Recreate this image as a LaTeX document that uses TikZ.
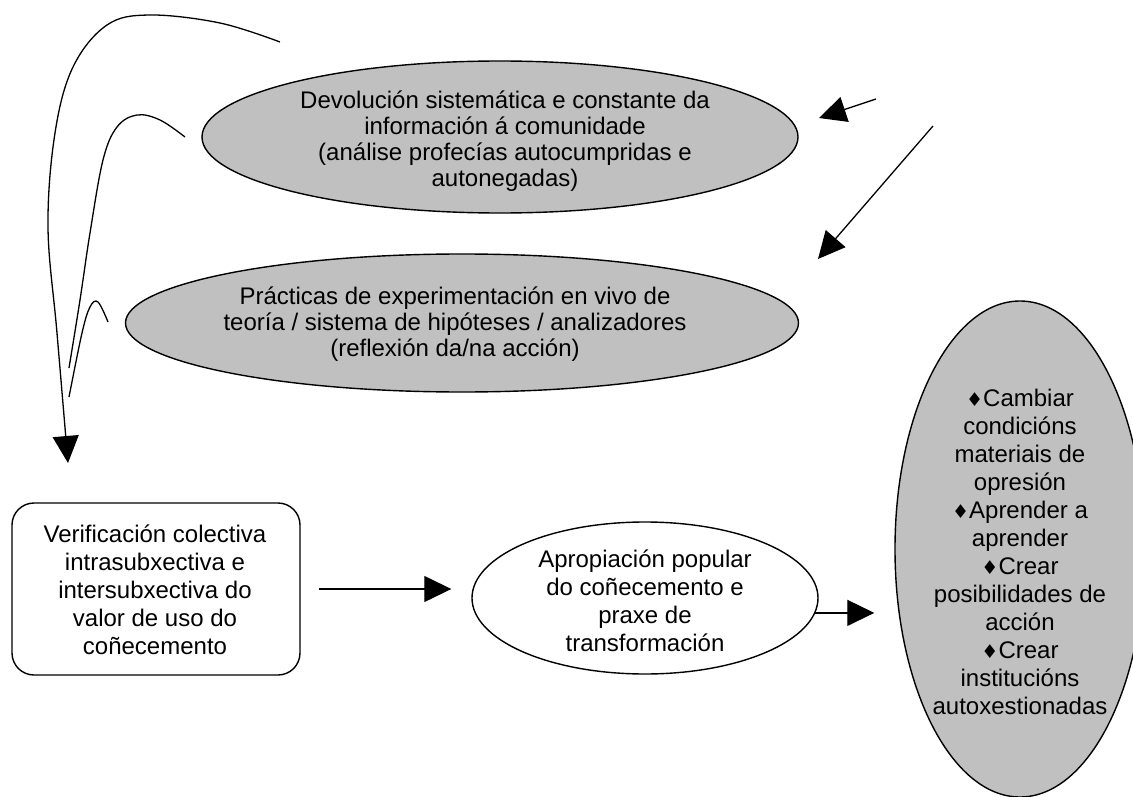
\documentclass[tikz,border=0pt]{standalone}
\usepackage{fontspec}
\setmainfont{Liberation Sans}
\newfontfamily\symfont{DejaVu Sans}
\usetikzlibrary{arrows.meta,shapes.geometric}
\definecolor{shade}{HTML}{C0C0C0}
\newcommand{\bul}{{\symfont\fontsize{19}{19}\selectfont ♦}}

\begin{document}
\begin{tikzpicture}[x=1pt, y=-1pt,
    oval/.style={draw, ellipse, line width=1.4pt, inner sep=0pt},
    grey/.style={fill=shade},
    txt/.style={align=center, inner sep=0pt, font=\fontsize{24}{28}\selectfont},
    tighttxt/.style={txt, font=\fontsize{24}{26}\selectfont},
    arr/.style={line width=1.3pt, -{Triangle[length=27pt, width=26pt]}}]
    \useasboundingbox (0,0) rectangle (1133,797);

    \node[oval, grey, minimum width=596pt, minimum height=152pt] (devol) at (500,137) {};
    \node[tighttxt] (devoltxt) at (505,141) {Devolución sistemática e constante da\\información á comunidade\\(análise profecías autocumpridas e\\autonegadas)};

    \node[oval, grey, minimum width=673pt, minimum height=138pt] (pract) at (462,323) {};
    \node[tighttxt] (practtxt) at (455,324) {Prácticas de experimentación en vivo de\\teoría / sistema de hipóteses / analizadores\\(reflexión da/na acción)};

    \node[draw, rounded corners=22pt, line width=1.4pt, minimum width=288pt, minimum height=172pt] (verif) at (156,589) {};
    \node[txt] (veriftxt) at (155,590) {Verificación colectiva\\intrasubxectiva e\\intersubxectiva do\\valor de uso do\\coñecemento};

    \node[oval, minimum width=346pt, minimum height=152pt] (aprop) at (645,598) {};
    \node[txt] (aproptxt) at (645,601) {Apropiación popular\\do coñecemento e\\praxe de\\transformación};

    \node[oval, grey, minimum width=250pt, minimum height=496pt] (result) at (1020,549) {};
    \node[txt] (resulttxt) at (1020,552) {\bul Cambiar\\condicións\\materiais de\\opresión\\\bul Aprender a\\aprender\\\bul Crear\\posibilidades de\\acción\\\bul Crear\\institucións\\autoxestionadas};

    \draw[arr, shorten <=18pt, shorten >=20pt] (verif.east) -- (verif.east -| aprop.west);
    \draw[arr, shorten >=20pt] (aprop.-5) -- (aprop.-5 -| result.west);

    \coordinate (s1) at (876,99);
    \coordinate (e1) at (819,118);
    \draw[arr] (s1) -- (e1);
    \coordinate (s2) at (933,126);
    \coordinate (e2) at (818,259);
    \draw[arr] (s2) -- (e2);

    % feedback curves on the left
    \draw[arr] plot[smooth, tension=.6] coordinates {(280,42) (220,23) (150,15) (107,25) (73,67) (55,133) (48,227) (57,333) (68,463)};
    \draw[line width=1.3pt] plot[smooth, tension=.6] coordinates {(185,137) (160,120) (137,115) (117,127) (103,160) (90,233) (80,300) (69,368)};
    \draw[line width=1.3pt] plot[smooth, tension=.6] coordinates {(108,322) (98,302) (90,307) (82,333) (69,397)};
\end{tikzpicture}
\end{document}
